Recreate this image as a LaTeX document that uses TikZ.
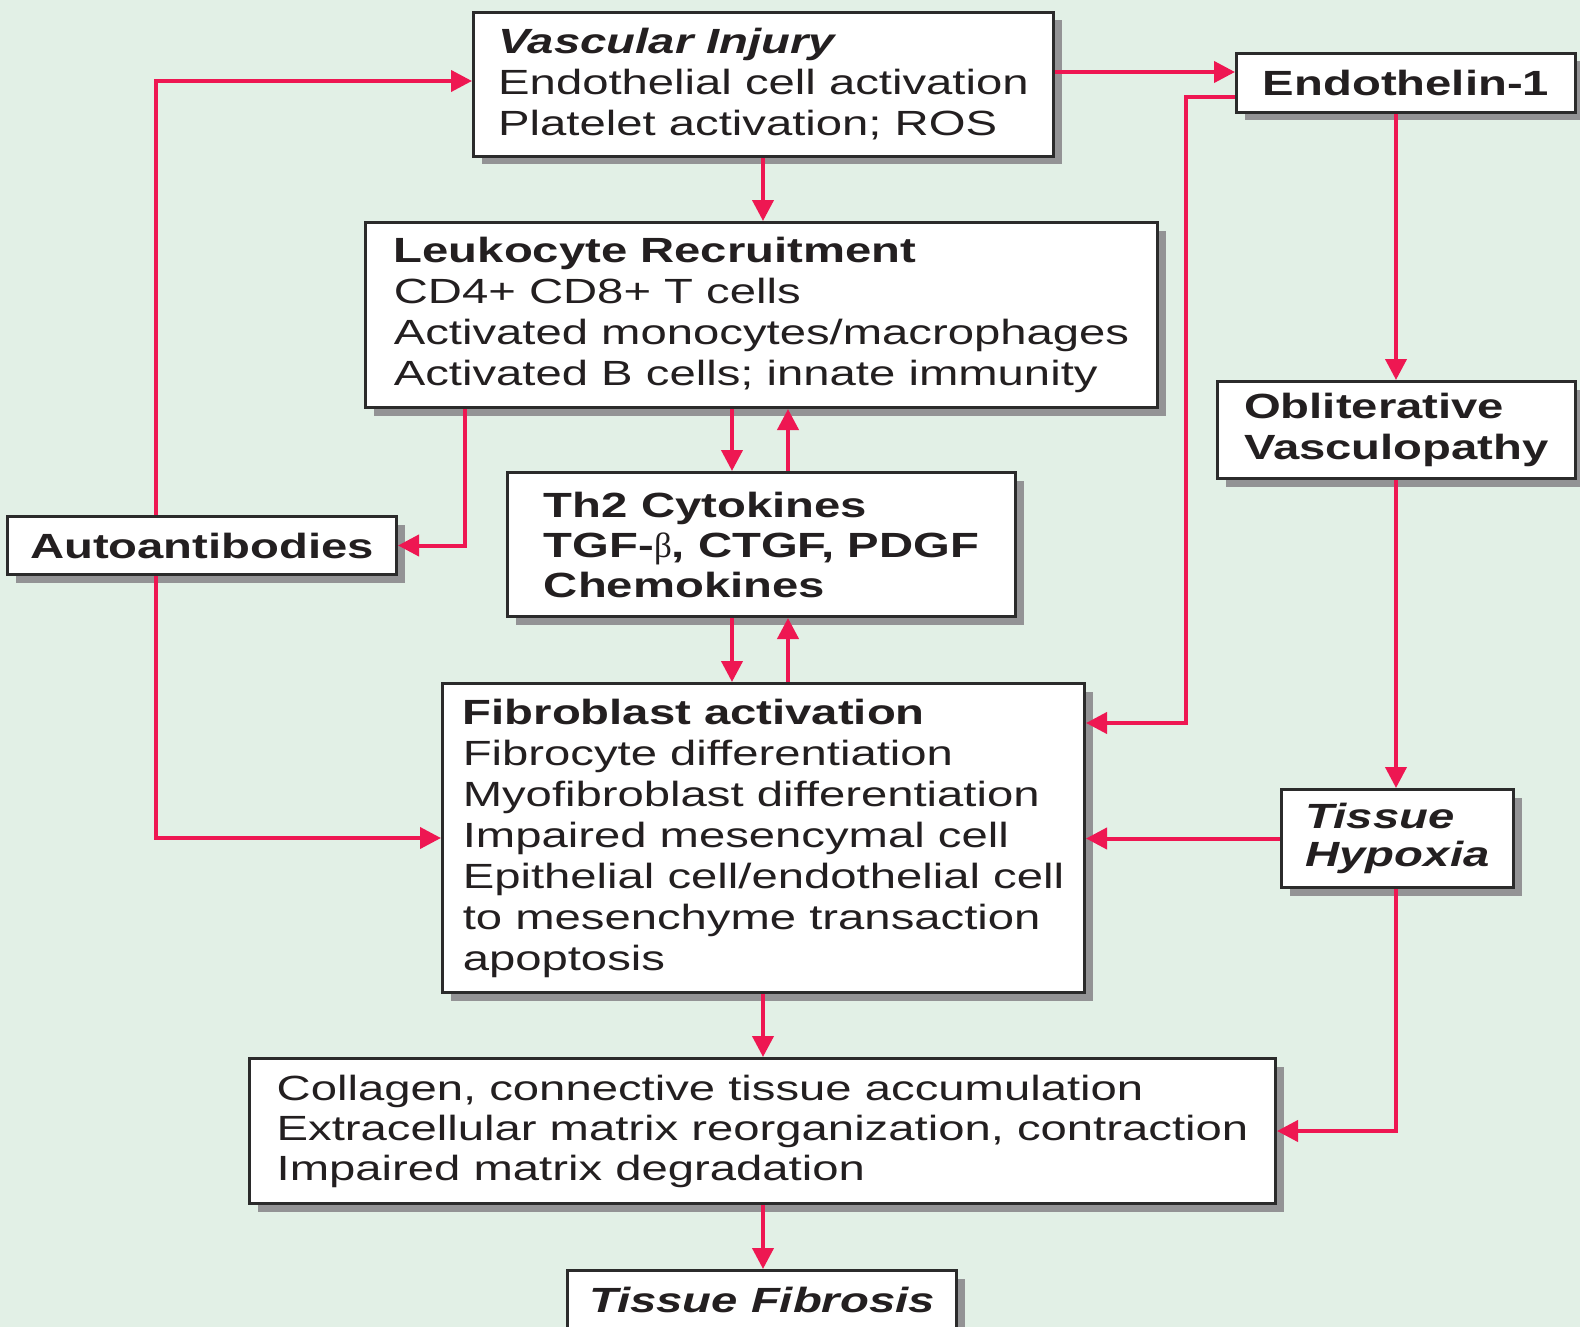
\documentclass[tikz,border=0pt]{standalone}
\usepackage{fontspec}
\setmainfont{Liberation Sans}[FakeStretch=1.35]
\newfontfamily\greekserif{Liberation Serif}
\usetikzlibrary{arrows.meta,shadows}
\definecolor{bg}{HTML}{E2F0E6}
\definecolor{flowred}{HTML}{EE1752}
\definecolor{ink}{HTML}{231F20}
\definecolor{edge}{HTML}{2B2B2B}
\definecolor{shade}{HTML}{939395}

\begin{document}
\begin{tikzpicture}[x=1pt,y=-1pt,
  box/.style={draw=edge, line width=3pt, fill=white, anchor=north west,
    align=left, inner sep=0pt, text=ink, font=\fontsize{35}{41}\selectfont,
    drop shadow={shadow xshift=8pt, shadow yshift=-8pt, fill=shade, opacity=1}},
  flow/.style={draw=flowred, line width=4pt, -{Triangle[length=21pt,width=21pt]}}]

% canvas
\fill[bg] (0,0) rectangle (1580,1327);
\useasboundingbox (0,0) rectangle (1580,1327);

% boxes
\node[box, minimum width=580pt, minimum height=144pt] (vi) at (472,11)
  {\textbf{\textit{Vascular Injury}}\\Endothelial cell activation\\Platelet activation; ROS};
\node[box, minimum width=339pt, minimum height=59pt] (et) at (1235,52)
  {\textbf{Endothelin-1}};
\node[box, minimum width=792pt, minimum height=185pt] (lr) at (364,221)
  {\textbf{Leukocyte Recruitment}\\CD4+ CD8+ T cells\\Activated monocytes/macrophages\\Activated B cells; innate immunity};
\node[box, minimum width=358pt, minimum height=97pt] (ov) at (1216,380)
  {\textbf{Obliterative}\\\textbf{Vasculopathy}};
\node[box, minimum width=389pt, minimum height=58pt] (aa) at (6,515)
  {\textbf{Autoantibodies}};
\node[box, minimum width=508pt, minimum height=144pt, font=\fontsize{35}{40}\selectfont] (th2) at (506,471)
  {\textbf{Th2 Cytokines}\\\textbf{TGF-}{\greekserif β}\textbf{, CTGF, PDGF}\\\textbf{Chemokines}\hspace*{6pt}};
\node[box, minimum width=642pt, minimum height=309pt] (fb) at (441,682)
  {\textbf{Fibroblast activation}\\Fibrocyte differentiation\\Myofibroblast differentiation\\Impaired mesencymal cell\\Epithelial cell/endothelial cell\\to mesenchyme transaction\\apoptosis};
\node[box, minimum width=232pt, minimum height=98pt, font=\fontsize{35}{38}\selectfont] (th) at (1280,788)
  {\textbf{\textit{Tissue}}\\\textbf{\textit{Hypoxia}}};
\node[box, minimum width=1026pt, minimum height=145pt, font=\fontsize{35}{40}\selectfont] (co) at (248,1057)
  {Collagen, connective tissue accumulation\\Extracellular matrix reorganization, contraction\\Impaired matrix degradation};
\node[box, minimum width=389pt, minimum height=58pt] (tf) at (566,1269)
  {\textbf{\textit{Tissue Fibrosis}}};

% routing guides
\coordinate (lx) at (156,0);
\coordinate (ax) at (465,0);
\coordinate (cx) at (763,0);
\coordinate (dnx) at (732,0);
\coordinate (upx) at (788,0);
\coordinate (rx) at (1186,0);
\coordinate (ex) at (1396,0);
\coordinate (y1) at (0,72);
\coordinate (y2) at (0,97);
\coordinate (y3) at (0,723);
\coordinate (y4) at (0,81);

% connectors
\draw[flow] (aa.north -| lx) |- (vi.west |- y4);
\draw[flow] (aa.south -| lx) |- (fb.west);
\draw[flow] (lr.south -| ax) |- (aa.east);
\draw[flow] (vi.south -| cx) -- (lr.north -| cx);
\draw[flow] (lr.south -| dnx) -- (th2.north -| dnx);
\draw[flow] (th2.north -| upx) -- (lr.south -| upx);
\draw[flow] (th2.south -| dnx) -- (fb.north -| dnx);
\draw[flow] (fb.north -| upx) -- (th2.south -| upx);
\draw[flow] (fb.south -| cx) -- (co.north -| cx);
\draw[flow] (co.south -| cx) -- (tf.north -| cx);
\draw[flow] (vi.east |- y1) -- (et.west |- y1);
\draw[flow] (et.west |- y2) -| (rx |- y3) -- (fb.east |- y3);
\draw[flow] (et.south -| ex) -- (ov.north -| ex);
\draw[flow] (ov.south -| ex) -- (th.north -| ex);
\draw[flow] (th.west) -- (fb.east |- th.west);
\draw[flow] (th.south -| ex) |- (co.east);
\end{tikzpicture}
\end{document}
